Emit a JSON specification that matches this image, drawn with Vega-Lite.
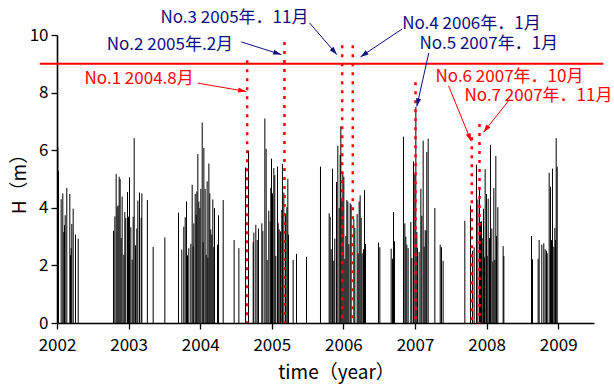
{
  "$schema": "https://vega.github.io/schema/vega-lite/v6.json",
  "autosize": {"type": "none"},
  "padding": {"left": 57, "top": 35, "right": 20, "bottom": 62},
  "width": 537,
  "height": 288,
  "config": {
    "view": {"stroke": null},
    "font": "Noto Sans CJK JP",
    "axis": {
      "grid": false,
      "domainColor": "#000000",
      "domainWidth": 1.6,
      "tickColor": "#000000",
      "tickWidth": 1.3,
      "labelColor": "#000000",
      "labelFont": "Noto Sans CJK JP",
      "labelFontSize": 17,
      "titleFont": "Noto Sans CJK JP",
      "titleFontSize": 19,
      "titleFontWeight": "normal",
      "titleColor": "#000000",
      "labelOverlap": false,
      "labelFlush": false
    }
  },
  "datasets": {
    "spikes": [
      {"year": 2002.012, "H": 6.10}, {"year": 2002.021, "H": 5.27}, {"year": 2002.058, "H": 4.30}, {"year": 2002.081, "H": 4.50},
      {"year": 2002.095, "H": 3.16}, {"year": 2002.105, "H": 3.40}, {"year": 2002.114, "H": 3.74}, {"year": 2002.137, "H": 4.69},
      {"year": 2002.179, "H": 4.48}, {"year": 2002.189, "H": 2.35}, {"year": 2002.198, "H": 2.60}, {"year": 2002.207, "H": 3.44},
      {"year": 2002.226, "H": 3.97}, {"year": 2002.258, "H": 3.07}, {"year": 2002.296, "H": 2.93},
      {"year": 2002.789, "H": 3.20}, {"year": 2002.808, "H": 3.70}, {"year": 2002.826, "H": 5.17}, {"year": 2002.840, "H": 4.04},
      {"year": 2002.854, "H": 4.08}, {"year": 2002.868, "H": 5.08}, {"year": 2002.882, "H": 5.00}, {"year": 2002.896, "H": 2.95},
      {"year": 2002.910, "H": 4.39}, {"year": 2002.933, "H": 2.37}, {"year": 2002.947, "H": 3.85}, {"year": 2002.961, "H": 3.65},
      {"year": 2002.985, "H": 4.55}, {"year": 2002.999, "H": 3.69}, {"year": 2003.013, "H": 5.06}, {"year": 2003.031, "H": 3.32},
      {"year": 2003.050, "H": 2.20}, {"year": 2003.064, "H": 3.69}, {"year": 2003.078, "H": 6.42}, {"year": 2003.096, "H": 2.70},
      {"year": 2003.115, "H": 3.28}, {"year": 2003.129, "H": 4.25}, {"year": 2003.152, "H": 4.53}, {"year": 2003.176, "H": 3.65},
      {"year": 2003.185, "H": 4.50}, {"year": 2003.262, "H": 4.27}, {"year": 2003.343, "H": 2.64}, {"year": 2003.506, "H": 2.97},
      {"year": 2003.697, "H": 3.83}, {"year": 2003.743, "H": 2.55}, {"year": 2003.771, "H": 3.34}, {"year": 2003.790, "H": 3.67},
      {"year": 2003.809, "H": 4.22}, {"year": 2003.823, "H": 2.35}, {"year": 2003.841, "H": 2.60}, {"year": 2003.869, "H": 2.75},
      {"year": 2003.888, "H": 4.80}, {"year": 2003.902, "H": 2.66}, {"year": 2003.911, "H": 3.46}, {"year": 2003.930, "H": 4.48},
      {"year": 2003.944, "H": 3.76}, {"year": 2003.953, "H": 4.57}, {"year": 2003.967, "H": 5.87}, {"year": 2003.981, "H": 4.22},
      {"year": 2003.995, "H": 3.99}, {"year": 2004.009, "H": 4.66}, {"year": 2004.028, "H": 6.96}, {"year": 2004.041, "H": 2.80},
      {"year": 2004.051, "H": 6.08}, {"year": 2004.069, "H": 4.66}, {"year": 2004.083, "H": 2.37}, {"year": 2004.097, "H": 4.92},
      {"year": 2004.107, "H": 2.26}, {"year": 2004.121, "H": 5.54}, {"year": 2004.134, "H": 4.50}, {"year": 2004.148, "H": 3.25},
      {"year": 2004.162, "H": 3.07}, {"year": 2004.176, "H": 4.29}, {"year": 2004.190, "H": 2.63}, {"year": 2004.200, "H": 3.99},
      {"year": 2004.242, "H": 2.72}, {"year": 2004.256, "H": 3.74}, {"year": 2004.321, "H": 4.27}, {"year": 2004.474, "H": 2.88},
      {"year": 2004.540, "H": 2.60},
      {"year": 2004.633, "H": 5.40}, {"year": 2004.675, "H": 5.98}, {"year": 2004.740, "H": 2.81}, {"year": 2004.749, "H": 3.14},
      {"year": 2004.777, "H": 3.41}, {"year": 2004.796, "H": 2.88}, {"year": 2004.814, "H": 3.28}, {"year": 2004.861, "H": 3.46},
      {"year": 2004.875, "H": 3.20}, {"year": 2004.903, "H": 7.10}, {"year": 2004.921, "H": 6.05}, {"year": 2004.935, "H": 2.19},
      {"year": 2004.958, "H": 3.90}, {"year": 2004.977, "H": 3.53}, {"year": 2004.986, "H": 4.69}, {"year": 2004.996, "H": 5.71},
      {"year": 2005.010, "H": 4.50}, {"year": 2005.028, "H": 5.38}, {"year": 2005.042, "H": 5.13}, {"year": 2005.056, "H": 2.33},
      {"year": 2005.080, "H": 5.43}, {"year": 2005.089, "H": 3.46}, {"year": 2005.103, "H": 3.25}, {"year": 2005.122, "H": 3.18},
      {"year": 2005.140, "H": 3.92}, {"year": 2005.149, "H": 5.52}, {"year": 2005.168, "H": 4.53}, {"year": 2005.191, "H": 3.78},
      {"year": 2005.210, "H": 4.02}, {"year": 2005.224, "H": 5.01}, {"year": 2005.233, "H": 3.07}, {"year": 2005.298, "H": 2.19},
      {"year": 2005.345, "H": 2.40}, {"year": 2005.485, "H": 2.30}, {"year": 2005.680, "H": 5.43}, {"year": 2005.801, "H": 3.81},
      {"year": 2005.815, "H": 3.69}, {"year": 2005.829, "H": 2.56}, {"year": 2005.848, "H": 5.36}, {"year": 2005.866, "H": 2.16},
      {"year": 2005.880, "H": 2.93}, {"year": 2005.904, "H": 4.90}, {"year": 2005.922, "H": 6.15}, {"year": 2005.941, "H": 3.99},
      {"year": 2005.955, "H": 5.84}, {"year": 2005.964, "H": 6.82}, {"year": 2005.978, "H": 4.32}, {"year": 2005.992, "H": 5.24},
      {"year": 2006.006, "H": 5.08}, {"year": 2006.020, "H": 2.23}, {"year": 2006.034, "H": 3.02}, {"year": 2006.048, "H": 4.27},
      {"year": 2006.062, "H": 4.22}, {"year": 2006.076, "H": 2.74}, {"year": 2006.095, "H": 4.16}, {"year": 2006.108, "H": 4.11},
      {"year": 2006.146, "H": 3.62}, {"year": 2006.160, "H": 3.30}, {"year": 2006.192, "H": 3.78}, {"year": 2006.206, "H": 2.42},
      {"year": 2006.220, "H": 4.22}, {"year": 2006.234, "H": 4.43}, {"year": 2006.248, "H": 3.65}, {"year": 2006.262, "H": 2.42},
      {"year": 2006.281, "H": 2.56}, {"year": 2006.295, "H": 4.62}, {"year": 2006.309, "H": 2.74},
      {"year": 2006.490, "H": 2.79}, {"year": 2006.509, "H": 2.63}, {"year": 2006.667, "H": 2.58}, {"year": 2006.686, "H": 2.23},
      {"year": 2006.700, "H": 3.85}, {"year": 2006.714, "H": 2.84}, {"year": 2006.839, "H": 6.47}, {"year": 2006.858, "H": 3.46},
      {"year": 2006.872, "H": 3.00}, {"year": 2006.886, "H": 2.72}, {"year": 2006.904, "H": 2.60}, {"year": 2006.942, "H": 3.51},
      {"year": 2006.956, "H": 2.26}, {"year": 2006.979, "H": 5.61}, {"year": 2006.998, "H": 5.17}, {"year": 2007.012, "H": 7.50},
      {"year": 2007.026, "H": 3.16}, {"year": 2007.035, "H": 2.60}, {"year": 2007.058, "H": 2.47}, {"year": 2007.082, "H": 4.66},
      {"year": 2007.095, "H": 3.72}, {"year": 2007.114, "H": 6.33}, {"year": 2007.128, "H": 2.65}, {"year": 2007.142, "H": 3.23},
      {"year": 2007.156, "H": 3.20}, {"year": 2007.165, "H": 5.94}, {"year": 2007.184, "H": 6.40}, {"year": 2007.277, "H": 3.99},
      {"year": 2007.352, "H": 2.72}, {"year": 2007.370, "H": 2.63}, {"year": 2007.393, "H": 2.16},
      {"year": 2007.696, "H": 3.55}, {"year": 2007.775, "H": 4.08}, {"year": 2007.803, "H": 2.51}, {"year": 2007.826, "H": 2.63},
      {"year": 2007.859, "H": 5.50}, {"year": 2007.878, "H": 4.29}, {"year": 2007.901, "H": 4.64}, {"year": 2007.915, "H": 3.51},
      {"year": 2007.929, "H": 3.53}, {"year": 2007.947, "H": 2.95}, {"year": 2007.957, "H": 3.97}, {"year": 2007.971, "H": 2.28},
      {"year": 2007.980, "H": 5.34}, {"year": 2007.999, "H": 4.48}, {"year": 2008.008, "H": 2.33}, {"year": 2008.022, "H": 4.32},
      {"year": 2008.041, "H": 2.95}, {"year": 2008.054, "H": 6.19}, {"year": 2008.073, "H": 3.28}, {"year": 2008.087, "H": 2.14},
      {"year": 2008.101, "H": 4.69}, {"year": 2008.115, "H": 2.19}, {"year": 2008.129, "H": 5.80}, {"year": 2008.138, "H": 3.02},
      {"year": 2008.157, "H": 4.02}, {"year": 2008.231, "H": 2.67}, {"year": 2008.241, "H": 2.33},
      {"year": 2008.627, "H": 3.02}, {"year": 2008.641, "H": 2.21}, {"year": 2008.720, "H": 2.23}, {"year": 2008.734, "H": 2.88},
      {"year": 2008.771, "H": 2.72}, {"year": 2008.799, "H": 2.77}, {"year": 2008.818, "H": 2.56}, {"year": 2008.837, "H": 2.51},
      {"year": 2008.846, "H": 2.42}, {"year": 2008.874, "H": 5.22}, {"year": 2008.892, "H": 4.73}, {"year": 2008.906, "H": 2.88},
      {"year": 2008.920, "H": 5.36}, {"year": 2008.939, "H": 2.65}, {"year": 2008.953, "H": 3.30}, {"year": 2008.962, "H": 2.88},
      {"year": 2008.972, "H": 6.42}, {"year": 2008.986, "H": 5.43}
    ],
    "threshold": [
      {"level": 9, "from": 2001.76, "to": 2009.63}
    ],
    "events": [
      {"no": 1, "date": 2004.656, "top": 9.12, "label": "No.1 2004.8月", "tx": 2002.384, "ty": 8.48, "ax": 2003.966, "ay": 8.33, "bx": 2004.642, "by": 8.04, "dir": 99.8, "kind": "A"},
      {"no": 2, "date": 2005.177, "top": 9.76, "label": "No.2 2005年.2月", "tx": 2002.696, "ty": 9.64, "ax": 2004.573, "ay": 9.76, "bx": 2005.131, "by": 9.32, "dir": 107.6, "kind": "B"},
      {"no": 3, "date": 2005.983, "top": 9.64, "label": "No.3 2005年．11月", "tx": 2003.445, "ty": 10.59, "ax": 2005.527, "ay": 10.42, "bx": 2005.908, "by": 9.32, "dir": 139.3, "kind": "B"},
      {"no": 4, "date": 2006.131, "top": 9.64, "label": "No.4 2006年．1月", "tx": 2006.821, "ty": 10.39, "ax": 2006.821, "ay": 10.21, "bx": 2006.239, "by": 9.24, "dir": 236.1, "kind": "B"},
      {"no": 5, "date": 2007.007, "top": 8.36, "label": "No.5 2007年．1月", "tx": 2007.063, "ty": 9.69, "ax": 2007.193, "ay": 9.38, "bx": 2007.025, "by": 7.52, "dir": 192.7, "kind": "B"},
      {"no": 6, "date": 2007.793, "top": 6.45, "label": "No.6 2007年．10月", "tx": 2007.286, "ty": 8.54, "ax": 2007.468, "ay": 8.24, "bx": 2007.785, "by": 6.31, "dir": 157.8, "kind": "A"},
      {"no": 7, "date": 2007.901, "top": 6.91, "label": "No.7 2007年．11月", "tx": 2007.691, "ty": 7.87, "ax": 2008.317, "ay": 7.75, "bx": 2007.957, "by": 6.62, "dir": 217.7, "kind": "A"}
    ]
  },
  "layer": [
    {
      "data": {"name": "spikes"},
      "mark": {"type": "rule", "color": "#000000", "strokeWidth": 1},
      "encoding": {
        "x": {
          "field": "year", "type": "quantitative",
          "scale": {"domain": [2002, 2009.5], "nice": false, "zero": false},
          "axis": {
            "title": "time（year）",
            "values": [2002, 2002.5, 2003, 2003.5, 2004, 2004.5, 2005, 2005.5, 2006, 2006.5, 2007, 2007.5, 2008, 2008.5, 2009],
            "format": "d",
            "labelExpr": "datum.value % 1 === 0 ? datum.label : ''",
            "tickSize": {"condition": {"test": "datum.value % 1 === 0", "value": 6}, "value": 3.5},
            "labelPadding": 8,
            "titlePadding": 10,
            "titleX": 279,
            "titleAlign": "center"
          }
        },
        "y": {
          "field": "H", "type": "quantitative",
          "scale": {"domain": [0, 10], "nice": false, "zero": true},
          "axis": {
            "title": "H（m）",
            "values": [0, 1, 2, 3, 4, 5, 6, 7, 8, 9, 10],
            "labelExpr": "datum.value % 2 === 0 ? datum.label : ''",
            "tickSize": {"condition": {"test": "datum.value % 2 === 0", "value": 6}, "value": 3.5},
            "labelPadding": 3,
            "titlePadding": 0
          }
        },
        "y2": {"datum": 0}
      }
    },
    {
      "data": {"name": "events"},
      "mark": {"type": "rule", "color": "#ff0000", "strokeWidth": 2.5, "strokeDash": [3, 6]},
      "encoding": {
        "x": {"field": "date", "type": "quantitative"},
        "y": {"field": "top", "type": "quantitative"},
        "y2": {"datum": 0}
      }
    },
    {
      "data": {"name": "threshold"},
      "mark": {"type": "rule", "color": "#ff0000", "strokeWidth": 2},
      "encoding": {
        "x": {"field": "from", "type": "quantitative"},
        "x2": {"field": "to"},
        "y": {"field": "level", "type": "quantitative"}
      }
    },
    {
      "data": {"name": "events"},
      "mark": {"type": "rule", "strokeWidth": 1},
      "encoding": {
        "x": {"field": "ax", "type": "quantitative"},
        "y": {"field": "ay", "type": "quantitative"},
        "x2": {"field": "bx"},
        "y2": {"field": "by"},
        "color": {"field": "kind", "type": "nominal", "scale": {"domain": ["A", "B"], "range": ["#ff0000", "#0d0d80"]}, "legend": null}
      }
    },
    {
      "data": {"name": "events"},
      "mark": {"type": "point", "filled": true, "opacity": 1, "strokeWidth": 0, "shape": "M0,0L0.32,1L-0.32,1Z", "size": 256},
      "encoding": {
        "x": {"field": "bx", "type": "quantitative"},
        "y": {"field": "by", "type": "quantitative"},
        "angle": {"field": "dir", "type": "quantitative", "scale": {"domain": [0, 360], "range": [0, 360]}},
        "color": {"field": "kind", "type": "nominal", "scale": {"domain": ["A", "B"], "range": ["#ff0000", "#0d0d80"]}, "legend": null}
      }
    },
    {
      "data": {"name": "events"},
      "mark": {"type": "text", "align": "left", "baseline": "middle", "fontSize": 17, "font": "Noto Sans CJK JP"},
      "encoding": {
        "x": {"field": "tx", "type": "quantitative"},
        "y": {"field": "ty", "type": "quantitative"},
        "text": {"field": "label"},
        "color": {"field": "kind", "type": "nominal", "scale": {"domain": ["A", "B"], "range": ["#ff0000", "#0d0d80"]}, "legend": null}
      }
    }
  ]
}
